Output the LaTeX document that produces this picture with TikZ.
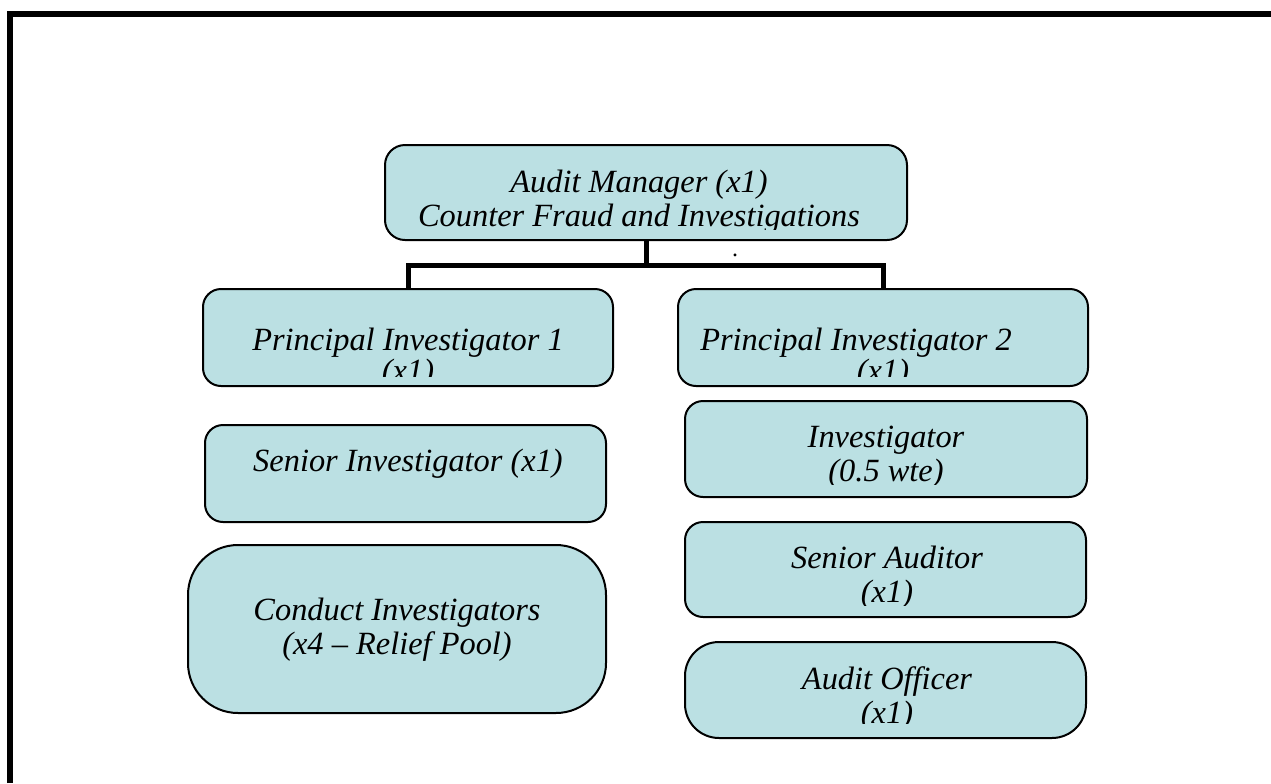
\documentclass[tikz,border=0pt]{standalone}
\usepackage{fontspec}
\setmainfont{Liberation Serif}
\usetikzlibrary{positioning}
\definecolor{postfill}{RGB}{187,224,227}

\begin{document}
\begin{tikzpicture}[x=0.5pt,y=-0.5pt,
    post/.style={draw,line width=1pt,fill=postfill,rounded corners=9pt,inner sep=0pt},
    posttext/.style={font=\fontsize{16.2}{17}\selectfont\itshape,align=center,inner sep=0pt}]
    \useasboundingbox (0,0) rectangle (1271,783);

    % frame
    \draw[line width=3pt] (10,783) -- (10,14) -- (1271,14);

    % manager
    \node[post,rounded corners=10pt,minimum width=261pt,minimum height=47.5pt] (mgr) at (646,192.5) {};
    \begin{scope}
        \clip (mgr.north west) rectangle ([yshift=6pt]mgr.south east);
        \node[posttext] (mgrtext) at (639,202) {Audit Manager (x1)\\Counter Fraud and Investigations};
    \end{scope}
    \node[font=\fontsize{12}{12}\selectfont] (dot) at (735,255) {.};

    % left column
    \node[post,minimum width=205pt,minimum height=48.5pt] (pi1) at (408,337.5) {};
    \begin{scope}
        \clip (pi1.north west) rectangle ([yshift=5.5pt]pi1.south east);
        \node[posttext,font=\fontsize{16.2}{13}\selectfont\itshape] (pi1text) at (408,358) {Principal Investigator 1\\(x1)};
    \end{scope}

    \node[post,minimum width=200.5pt,minimum height=48.5pt] (si) at (405.5,473.5) {};
    \node[posttext] (sitext) at (408,464) {Senior Investigator (x1)};

    \node[post,rounded corners=25pt,minimum width=209pt,minimum height=84pt] (ci) at (397,629) {};
    \node[posttext] (citext) at (397,630) {Conduct Investigators\\(x4 -- Relief Pool)};

    % right column
    \node[post,minimum width=205pt,minimum height=48.5pt] (pi2) at (883,337.5) {};
    \begin{scope}
        \clip (pi2.north west) rectangle ([yshift=5.5pt]pi2.south east);
        \node[posttext,font=\fontsize{16.2}{13}\selectfont\itshape] (pi2text) at (883,358) {Principal Investigator 2\hspace*{27pt}\\(x1)};
    \end{scope}

    \node[post,minimum width=201pt,minimum height=48pt] (inv) at (886,449) {};
    \begin{scope}
        \clip (inv.north west) rectangle ([yshift=7pt]inv.south east);
        \node[posttext] (invtext) at (886,457) {Investigator\\(0.5 wte)};
    \end{scope}

    \node[post,minimum width=200.5pt,minimum height=47.5pt] (sa) at (885.5,569.5) {};
    \begin{scope}
        \clip (sa.north west) rectangle ([yshift=6.5pt]sa.south east);
        \node[posttext] (satext) at (887,578) {Senior Auditor\\(x1)};
    \end{scope}

    \node[post,rounded corners=17pt,minimum width=200.5pt,minimum height=48pt] (ao) at (885.5,690) {};
    \begin{scope}
        \clip (ao.north west) rectangle ([yshift=8pt]ao.south east);
        \node[posttext] (aotext) at (887,699) {Audit Officer\\(x1)};
    \end{scope}

    % links
    \coordinate (bus) at (646,265);
    \draw[line width=2.5pt] (mgr.south) -- (bus) -| (pi1.north);
    \draw[line width=2.5pt] (bus) -| (pi2.north);
\end{tikzpicture}
\end{document}
